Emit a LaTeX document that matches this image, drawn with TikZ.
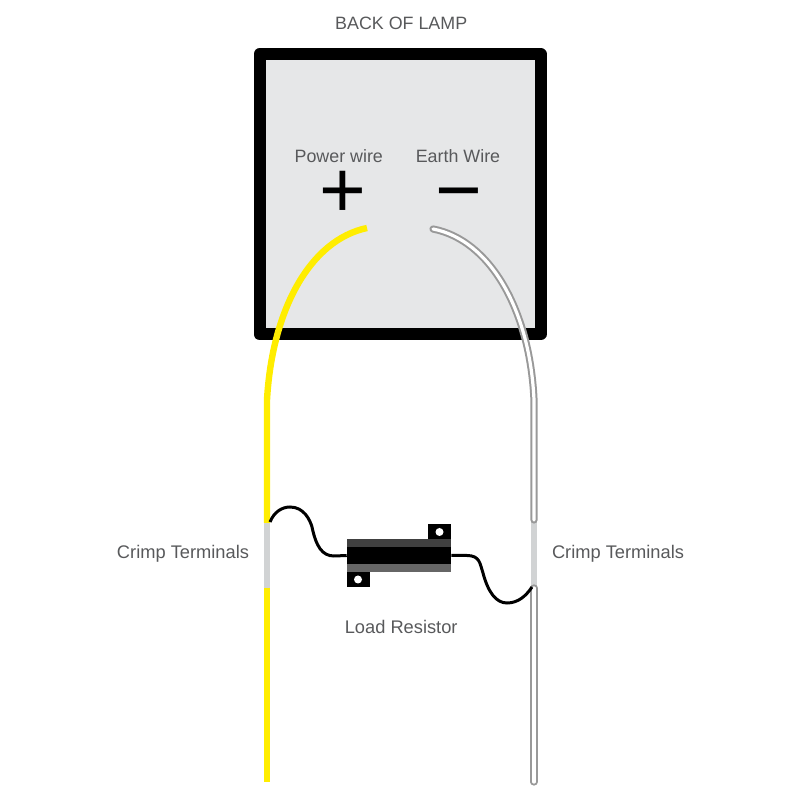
\documentclass[tikz,border=0pt]{standalone}
\usepackage{fontspec}
\usepackage{tikz}
\setmainfont{Liberation Sans}
\definecolor{lampgrey}{HTML}{E6E7E8}
\definecolor{labelgrey}{HTML}{58595B}
\definecolor{crimpgrey}{HTML}{D1D3D4}
\definecolor{powerwire}{HTML}{FFED00}
\tikzset{
  label text/.style={text=labelgrey, inner sep=0pt, font=\fontsize{12.7}{15}\selectfont},
  crimp text/.style={text=labelgrey, inner sep=0pt, font=\fontsize{13}{15}\selectfont},
  sign text/.style={inner sep=0pt, text=black, text height=13mm, text depth=0pt, font=\fontsize{57}{60}\selectfont},
  power/.style={draw=powerwire, line width=1.6mm},
  earth/.style={draw=gray!80, double=white, line width=.5mm, double distance=.8mm, line cap=round},
  crimp/.style={draw=crimpgrey, line width=1.3mm},
  lead/.style={draw=black, line width=.75mm},
  tab/.style={fill=black, inner sep=0pt, minimum width=5.75mm, minimum height=4mm},
  hole/.style={circle, fill=white, inner sep=0pt, minimum size=2mm}
}
\begin{document}
\begin{tikzpicture}
  \useasboundingbox (0,0) rectangle (20,20);
  \node [draw=black, line width=3mm, line join=round, fill=lampgrey, minimum width=7.025cm, minimum height=7.01cm] (lamp) at (10,15.144) {};
  \node [label text] (title) at (10.03,19.42) {BACK OF LAMP};
  \node [label text] (powerlabel) at (8.47,16.1) {Power wire};
  \node [label text] (earthlabel) at (11.45,16.1) {Earth Wire};
  \node [sign text] (plus) at (8.575,15.2) {+};
  \node [sign text] (minus) at (11.48,15.2) {−};

  \coordinate (powertop) at (9.175,14.3);
  \coordinate (powerbend) at (6.675,10);
  \coordinate (powerend) at (6.675,6.925);
  \coordinate (powerstart) at (6.675,5.3);
  \coordinate (powerfoot) at (6.675,.45);
  \coordinate (earthtop) at (10.825,14.275);
  \coordinate (earthbend) at (13.35,10);
  \coordinate (earthend) at (13.35,7);
  \coordinate (earthstart) at (13.35,5.3);
  \coordinate (earthfoot) at (13.35,.45);

  \draw [crimp] (powerend) -- (powerstart);
  \draw [crimp] (earthend) -- (earthstart);
  \draw [power] (powertop) .. controls (7.75,14) and (6.8,12.25) .. (powerbend) -- (powerend);
  \draw [power] (powerstart) -- (powerfoot);
  \draw [earth] (earthtop) .. controls (12.25,14) and (13.25,12.25) .. (earthbend) -- (earthend);
  \draw [earth] (earthstart) -- (earthfoot);

  \node [tab] (tabtop) at (10.9875,6.7) {};
  \node [tab] (tabbottom) at (8.95,5.5125) {};
  \node [hole] (holetop) at (tabtop) {};
  \node [hole] (holebottom) at (tabbottom) {};
  \node [fill=black, inner sep=0pt, minimum width=2.6cm, minimum height=8.25mm] (resistor) at (9.975,6.1125) {};
  \node [fill=black!75, inner sep=0pt, minimum width=2.6cm, minimum height=2mm, anchor=north] (bandtop) at (resistor.north) {};
  \node [fill=black!60, inner sep=0pt, minimum width=2.6cm, minimum height=2mm, anchor=south] (bandbottom) at (resistor.south) {};

  \coordinate (leadleft) at (6.75,6.95);
  \coordinate (leadright) at (13.3,5.325);
  \draw [lead] (leadleft) .. controls (6.85,7.2) and (7.05,7.325) .. (7.25,7.325)
    .. controls (7.6,7.325) and (7.75,7) .. (7.8,6.825)
    .. controls (7.9,6.35) and (8.05,6.1) .. (8.35,6.1) -- (resistor.west);
  \draw [lead] (resistor.east) -- (11.675,6.1125)
    .. controls (12,6.1125) and (12,5.9) .. (12.075,5.675)
    .. controls (12.2,5.2) and (12.4,4.925) .. (12.675,4.925)
    .. controls (12.95,4.925) and (13.15,5.1) .. (leadright);

  \node [crimp text] (crimpleft) at (4.575,6.15) {Crimp Terminals};
  \node [crimp text] (crimpright) at (15.45,6.15) {Crimp Terminals};
  \node [label text, font=\fontsize{13}{15}\selectfont] (resistorlabel) at (10.03,4.32) {Load Resistor};
\end{tikzpicture}
\end{document}
